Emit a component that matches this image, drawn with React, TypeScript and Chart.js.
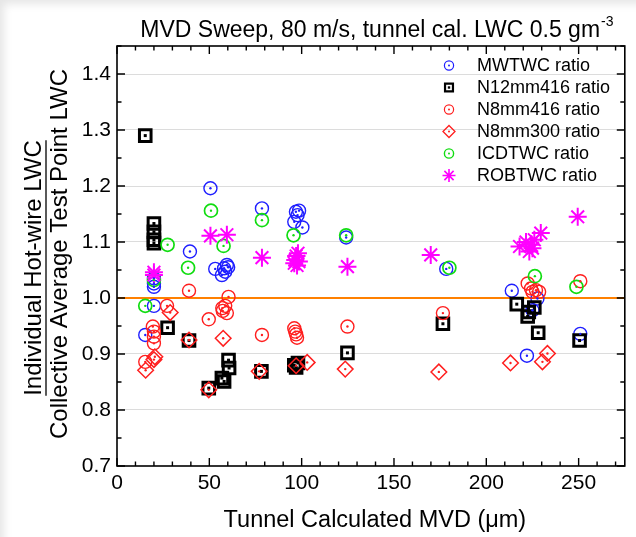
import React, { useEffect, useRef } from 'react';
import { Chart, registerables } from 'chart.js';

Chart.register(...registerables);

// ---------------- data ----------------
const mwtwcX = [15.3, 20, 20, 20, 20, 39.5, 50.6, 53.2, 56.8, 58, 58.6, 59.5, 60.2, 78.5, 96.9, 98.6, 96, 97.8, 100.4, 124.1, 178.3, 213.8, 222, 227.7, 225, 250.9];
const mwtwcY = [0.934, 0.986, 1.020, 1.026, 1.035, 1.083, 1.196, 1.052, 1.041, 1.053, 1.047, 1.059, 1.055, 1.160, 1.154, 1.156, 1.136, 1.148, 1.126, 1.108, 1.052, 1.013, 0.897, 0.999, 0.978, 0.936];

const n12X = [15.3, 20, 20, 20, 20, 27.4, 39, 49.7, 56.8, 58, 60.4, 60.7, 78.2, 96, 97, 98, 124.8, 176.5, 216.5, 222.4, 223, 226, 228.1, 250.5];
const n12Y = [1.290, 1.133, 1.118, 1.104, 1.098, 0.947, 0.924, 0.839, 0.857, 0.851, 0.889, 0.875, 0.869, 0.880, 0.876, 0.884, 0.902, 0.954, 0.989, 0.967, 0.975, 0.983, 0.938, 0.924];

const n8_416X = [15.3, 19.4, 20, 20, 20, 27.1, 39, 49.7, 57, 57.3, 58.6, 59.5, 60.4, 78.5, 96, 96.5, 97, 97.5, 124.8, 176.5, 222.4, 224.2, 225, 226.9, 228.6, 250.9];
const n8_416Y = [0.886, 0.949, 0.940, 0.931, 0.919, 0.986, 1.013, 0.962, 0.982, 0.977, 0.986, 0.973, 1.002, 0.934, 0.946, 0.940, 0.935, 0.929, 0.949, 0.973, 1.026, 1.017, 1.011, 1.014, 1.011, 1.030];

const n8_300X = [15.5, 20, 20.5, 28.8, 39, 49.7, 57.5, 77, 97, 103, 123.6, 174.3, 213.1, 230.4, 233.1];
const n8_300Y = [0.871, 0.890, 0.895, 0.974, 0.925, 0.836, 0.928, 0.869, 0.879, 0.885, 0.873, 0.868, 0.884, 0.886, 0.901];

const icdX = [15.3, 20, 27.4, 38.5, 50.9, 57.7, 78.5, 95.6, 124.1, 180, 226.3, 248.8];
const icdY = [0.986, 1.032, 1.095, 1.054, 1.156, 1.093, 1.139, 1.112, 1.112, 1.054, 1.039, 1.020];

const robX = [20, 20, 50.6, 59.5, 78.5, 96, 96.5, 97, 97.5, 98, 98.5, 124.8, 169.9, 218, 221.5, 223.3, 224.2, 225, 226, 229.5, 249.5];
const robY = [1.041, 1.046, 1.111, 1.113, 1.072, 1.062, 1.068, 1.075, 1.058, 1.080, 1.065, 1.056, 1.077, 1.092, 1.100, 1.083, 1.095, 1.089, 1.104, 1.116, 1.145];

const refLineX = [0, 275];
const refLineY = [1.0, 1.0];

const xMajorTicks = [0, 50, 100, 150, 200, 250];
const yMajorTicks = [0.7, 0.8, 0.9, 1.0, 1.1, 1.2, 1.3, 1.4];

const seriesLabels = ['MWTWC ratio', 'N12mm416 ratio', 'N8mm416 ratio', 'N8mm300 ratio', 'ICDTWC ratio', 'ROBTWC ratio'];

const titleMain = 'MVD Sweep, 80 m/s, tunnel cal. LWC 0.5 gm';
const titleSup = '-3';
const yTitleTop = 'Individual Hot-wire LWC';
const yTitleBottom = 'Collective Average Test Point LWC';
const xTitle = 'Tunnel Calculated MVD (\u03bcm)';

const FONT = '"Liberation Sans", Arial, Helvetica, sans-serif';

const zip = (xs: number[], ys: number[]) => xs.map((x, i) => ({ x, y: ys[i] }));

type Sty = { color: string; style: string; radius: number; width: number; dot: boolean; lr: number; lw: number };
const styles: Sty[] = [
  { color: '#1f1fff', style: 'circle', radius: 6.5, width: 1.4, dot: true, lr: 4.6, lw: 1.2 },
  { color: '#000000', style: 'rect', radius: 8.2, width: 3, dot: true, lr: 5.6, lw: 2.2 },
  { color: '#ff1f1f', style: 'circle', radius: 6.5, width: 1.4, dot: true, lr: 4.6, lw: 1.2 },
  { color: '#ff1f1f', style: 'rectRot', radius: 7.8, width: 1.5, dot: true, lr: 6, lw: 1.3 },
  { color: '#11dd11', style: 'circle', radius: 6.5, width: 1.7, dot: true, lr: 4.6, lw: 1.4 },
  { color: '#ff00ff', style: 'star', radius: 9, width: 2, dot: false, lr: 6.5, lw: 1.6 },
];

const isMult = (v: number, step: number) => Math.abs(v / step - Math.round(v / step)) < 1e-6;

function drawMarker(ctx: CanvasRenderingContext2D, style: string, r: number, x: number, y: number) {
  ctx.beginPath();
  if (style === 'circle') {
    ctx.arc(x, y, r, 0, Math.PI * 2);
  } else if (style === 'rect') {
    const s = Math.SQRT1_2 * r;
    ctx.rect(x - s, y - s, 2 * s, 2 * s);
  } else if (style === 'rectRot') {
    ctx.moveTo(x - r, y);
    ctx.lineTo(x, y - r);
    ctx.lineTo(x + r, y);
    ctx.lineTo(x, y + r);
    ctx.closePath();
  } else if (style === 'star') {
    for (let k = 0; k < 4; k++) {
      const a = (k * Math.PI) / 4;
      ctx.moveTo(x - Math.cos(a) * r, y - Math.sin(a) * r);
      ctx.lineTo(x + Math.cos(a) * r, y + Math.sin(a) * r);
    }
  }
  ctx.stroke();
}

const decorPlugin = {
  id: 'decor',
  afterDatasetsDraw(chart: any) {
    const ctx = chart.ctx as CanvasRenderingContext2D;
    // center dots
    chart.data.datasets.forEach((ds: any, i: number) => {
      if (!ds._dot) return;
      const meta = chart.getDatasetMeta(i);
      ctx.save();
      ctx.fillStyle = ds.borderColor;
      meta.data.forEach((el: any) => {
        ctx.beginPath();
        if (ds.pointStyle === 'rect') ctx.rect(el.x - 1.5, el.y - 1.5, 3, 3);
        else ctx.arc(el.x, el.y, 1.2, 0, Math.PI * 2);
        ctx.fill();
      });
      ctx.restore();
    });
  },
  afterDraw(chart: any) {
    const ctx = chart.ctx as CanvasRenderingContext2D;
    const { left, right, top, bottom } = chart.chartArea;
    const xs = chart.scales.x;
    const ys = chart.scales.y;
    ctx.save();
    // frame
    ctx.strokeStyle = '#000';
    ctx.lineWidth = 1.6;
    ctx.strokeRect(left, top, right - left, bottom - top);
    // ticks (inward, on all four sides)
    ctx.lineWidth = 1.4;
    ctx.beginPath();
    xs.ticks.forEach((t: any) => {
      const px = xs.getPixelForValue(t.value);
      const len = isMult(t.value, 50) ? 8 : 4.5;
      ctx.moveTo(px, bottom);
      ctx.lineTo(px, bottom - len);
      ctx.moveTo(px, top);
      ctx.lineTo(px, top + len);
    });
    ys.ticks.forEach((t: any) => {
      const py = ys.getPixelForValue(t.value);
      const len = isMult(t.value, 0.1) ? 8 : 4.5;
      ctx.moveTo(left, py);
      ctx.lineTo(left + len, py);
      ctx.moveTo(right, py);
      ctx.lineTo(right - len, py);
    });
    ctx.stroke();

    ctx.fillStyle = '#000';
    // title
    ctx.font = `23px ${FONT}`;
    const w1 = ctx.measureText(titleMain).width;
    ctx.font = `14px ${FONT}`;
    const w2 = ctx.measureText(titleSup).width;
    const cx = (left + right) / 2;
    const sx = cx + 6 - (w1 + w2 + 1) / 2;
    ctx.textAlign = 'left';
    ctx.textBaseline = 'alphabetic';
    ctx.font = `23px ${FONT}`;
    ctx.fillText(titleMain, sx, 37);
    ctx.font = `14px ${FONT}`;
    ctx.fillText(titleSup, sx + w1 + 1, 26);

    // x title
    ctx.font = `23.5px ${FONT}`;
    ctx.textAlign = 'center';
    ctx.fillText(xTitle, cx + 4, 527);

    // y title (fraction)
    ctx.save();
    ctx.rotate(-Math.PI / 2);
    ctx.font = `24px ${FONT}`;
    ctx.textAlign = 'center';
    ctx.textBaseline = 'alphabetic';
    const c1 = -268;
    const c2 = -254;
    ctx.fillText(yTitleTop, c1, 41);
    const wl = ctx.measureText(yTitleTop).width;
    ctx.lineWidth = 1.3;
    ctx.beginPath();
    ctx.moveTo(c1 - wl / 2, 46);
    ctx.lineTo(c1 + wl / 2, 46);
    ctx.stroke();
    ctx.fillText(yTitleBottom, c2, 67);
    ctx.restore();

    // legend
    const lx = 449;
    const ly0 = 65.5;
    const dy = 22;
    ctx.font = `18px ${FONT}`;
    ctx.textAlign = 'left';
    ctx.textBaseline = 'middle';
    seriesLabels.forEach((lab, i) => {
      const s = styles[i];
      const y = ly0 + i * dy;
      ctx.save();
      ctx.strokeStyle = s.color;
      ctx.lineWidth = s.lw;
      drawMarker(ctx, s.style, s.lr, lx, y);
      if (s.dot) {
        ctx.fillStyle = s.color;
        ctx.beginPath();
        if (s.style === 'rect') ctx.rect(lx - 1.2, y - 1.2, 2.4, 2.4);
        else ctx.arc(lx, y, 1, 0, Math.PI * 2);
        ctx.fill();
      }
      ctx.restore();
      ctx.fillStyle = '#000';
      ctx.fillText(lab, 477, y + 1);
    });
    ctx.restore();
  },
};

export default function App() {
  const ref = useRef<HTMLCanvasElement | null>(null);
  useEffect(() => {
    if (!ref.current) return;
    const seriesData = [
      zip(mwtwcX, mwtwcY),
      zip(n12X, n12Y),
      zip(n8_416X, n8_416Y),
      zip(n8_300X, n8_300Y),
      zip(icdX, icdY),
      zip(robX, robY),
    ];
    const datasets: any[] = seriesData.map((d, i) => ({
      type: 'scatter',
      label: seriesLabels[i],
      data: d,
      pointStyle: styles[i].style,
      pointRadius: styles[i].radius,
      pointHoverRadius: styles[i].radius,
      pointBorderWidth: styles[i].width,
      borderColor: styles[i].color,
      pointBorderColor: styles[i].color,
      backgroundColor: 'rgba(0,0,0,0)',
      pointBackgroundColor: 'rgba(0,0,0,0)',
      order: 6 - i,
      _dot: styles[i].dot,
    }));
    datasets.push({
      type: 'line',
      label: 'ref',
      data: zip(refLineX, refLineY),
      borderColor: '#ff8000',
      borderWidth: 2,
      pointRadius: 0,
      showLine: true,
      order: 20,
    });
    const chart = new Chart(ref.current, {
      type: 'scatter',
      data: { datasets },
      options: {
        animation: false,
        responsive: false,
        devicePixelRatio: 1,
        layout: { padding: { top: 46, right: 5, left: 0, bottom: 0 } },
        plugins: { legend: { display: false }, tooltip: { enabled: false }, title: { display: false } },
        scales: {
          x: {
            type: 'linear',
            min: 0,
            max: 275,
            afterFit: (s: any) => { s.height = 71; },
            border: { display: false },
            grid: { display: false, drawTicks: false },
            ticks: {
              stepSize: 10,
              includeBounds: false,
              autoSkip: false,
              maxRotation: 0,
              padding: 5,
              color: '#000',
              font: { family: FONT, size: 21 },
              callback: (v: any) => (xMajorTicks.some((m) => Math.abs(m - v) < 1e-6) ? String(Math.round(v)) : ''),
            },
          },
          y: {
            type: 'linear',
            min: 0.7,
            max: 1.45,
            afterFit: (s: any) => { s.width = 117; },
            border: { display: false },
            grid: {
              drawTicks: false,
              lineWidth: 1,
              color: (c: any) => {
                const v = c.tick ? c.tick.value : 0;
                return isMult(v, 0.1) && v > 0.75 && v < 1.42 ? '#dcdcdc' : 'rgba(0,0,0,0)';
              },
            },
            ticks: {
              stepSize: 0.05,
              includeBounds: false,
              autoSkip: false,
              padding: 6,
              color: '#000',
              font: { family: FONT, size: 21 },
              callback: (v: any) => {
                const m = yMajorTicks.find((t) => Math.abs(t - v) < 1e-6);
                return m !== undefined ? m.toFixed(1) : '';
              },
            },
          },
        },
      },
      plugins: [decorPlugin],
    } as any);
    return () => chart.destroy();
  }, []);
  return (
    <div
      style={{
        position: 'fixed',
        left: 0,
        top: 0,
        width: 636,
        height: 537,
        background: '#fff',
        boxShadow: 'inset 7px 7px 9px -3px rgba(0,0,0,0.10)',
      }}
    >
      <canvas ref={ref} width={636} height={537} style={{ display: 'block', width: 636, height: 537 }} />
    </div>
  );
}
